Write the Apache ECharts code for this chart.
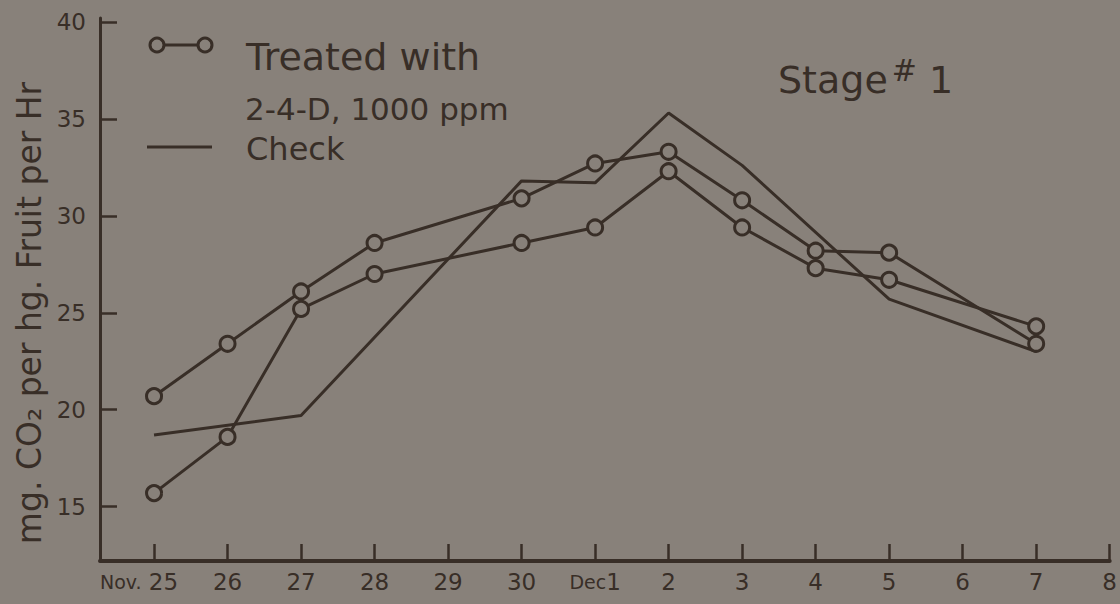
<!DOCTYPE html>
<html>
<head>
<meta charset="utf-8">
<script src="https://cdn.jsdelivr.net/npm/echarts@6/dist/echarts.min.js"></script>
<style>
  html, body { margin: 0; padding: 0; background: #88817a; }
  #chart { width: 1120px; height: 604px; }
</style>
</head>
<body>
<div id="chart"></div>
<script>
// ---- data ----
const days = ['Nov. 25', '26', '27', '28', '29', '30', 'Dec 1', '2', '3', '4', '5', '6', '7', '8'];
const treatedA = [20.7, 23.4, 26.1, 28.6, null, 30.9, 32.7, 33.3, 30.8, 28.2, 28.1, null, 23.4, null];
const treatedB = [15.7, 18.6, 25.2, 27.0, null, 28.6, 29.4, 32.3, 29.4, 27.3, 26.7, null, 24.3, null];
const check    = [18.7, null, 19.7, null, null, 31.8, 31.7, 35.3, 32.6, null, 25.7, null, 23.0, null];
const yTicks = [15, 20, 25, 30, 35, 40];
const dayTicks = days.map((d, i) => i);

const ink = '#382e27';
const bg = '#88817a';
const font = 'DejaVu Sans';

function pairs(arr) { return arr.map((v, i) => [i, v]); }

const chart = echarts.init(document.getElementById('chart'), null, { renderer: 'svg' });

const lineSeries = (name, data, withSymbols) => ({
  name: name,
  type: 'line',
  data: pairs(data),
  connectNulls: true,
  symbol: withSymbols ? 'circle' : 'none',
  symbolSize: 15,
  showSymbol: withSymbols,
  lineStyle: { color: ink, width: 3 },
  itemStyle: { color: bg, borderColor: ink, borderWidth: 3 },
  z: withSymbols ? 3 : 2,
  animation: false
});

chart.setOption({
  backgroundColor: bg,
  animation: false,
  textStyle: { fontFamily: font, color: ink },
  grid: { left: 100, right: 10, top: 18, bottom: 43 },
  xAxis: {
    type: 'value',
    min: -0.735,
    max: 13,
    axisLine: { show: true, onZero: false, lineStyle: { color: ink, width: 4 } },
    axisTick: { show: true, inside: true, length: 17, customValues: dayTicks, lineStyle: { color: ink, width: 2.5 } },
    axisLabel: {
      customValues: dayTicks,
      margin: 9,
      fontSize: 23,
      color: ink,
      fontFamily: font,
      formatter: function (v) {
        const s = days[Math.round(v)];
        if (s && s.indexOf('Nov.') === 0) return '{s|Nov.} {n|' + s.slice(5) + '}';
        if (s && s.indexOf('Dec') === 0) return '{d|Dec}' + s.slice(4);
        return s;
      },
      rich: {
        s: { fontSize: 19, fontFamily: font, color: ink },
        n: { fontSize: 23, fontFamily: font, color: ink, padding: [0, 30, 0, 0] },
        d: { fontSize: 19, fontFamily: font, color: ink }
      }
    },
    splitLine: { show: false }
  },
  yAxis: {
    type: 'value',
    min: 12.2,
    max: 40.2,
    name: 'mg. CO\u2082 per hg. Fruit per Hr',
    nameLocation: 'middle',
    nameRotate: 90,
    nameGap: 54,
    nameTextStyle: { fontSize: 33, fontFamily: font, color: ink, padding: [0, 47, 0, 0] },
    axisLine: { show: true, onZero: false, lineStyle: { color: ink, width: 3 } },
    axisTick: { show: true, inside: true, length: 17, customValues: yTicks, lineStyle: { color: ink, width: 2.5 } },
    axisLabel: {
      customValues: yTicks,
      margin: 14,
      fontSize: 23,
      fontFamily: font,
      color: function (v) { return v === 40 ? '#5e554d' : ink; },
      formatter: function (v) { return String(v); }
    },
    splitLine: { show: false }
  },
  graphic: [
    // legend: treated (o—o)
    { type: 'line', shape: { x1: 157, y1: 45, x2: 205, y2: 45 }, style: { stroke: ink, lineWidth: 3 }, z: 10 },
    { type: 'circle', shape: { cx: 157, cy: 45, r: 7 }, style: { fill: bg, stroke: ink, lineWidth: 3 }, z: 11 },
    { type: 'circle', shape: { cx: 205, cy: 45, r: 7 }, style: { fill: bg, stroke: ink, lineWidth: 3 }, z: 11 },
    { type: 'text', style: { x: 246, y: 57, verticalAlign: 'middle', text: 'Treated with', font: '38px "DejaVu Sans"', fill: ink }, z: 10 },
    { type: 'text', style: { x: 245, y: 109, verticalAlign: 'middle', text: '2-4-D, 1000 ppm', font: '31px "DejaVu Sans"', fill: ink }, z: 10 },
    // legend: check (line)
    { type: 'line', shape: { x1: 147, y1: 147, x2: 212, y2: 147 }, style: { stroke: ink, lineWidth: 3 }, z: 10 },
    { type: 'text', style: { x: 246, y: 149, verticalAlign: 'middle', text: 'Check', font: '32px "DejaVu Sans"', fill: ink }, z: 10 },
    // stage label
    {
      type: 'text',
      style: {
        x: 778, y: 80, verticalAlign: 'middle',
        text: 'Stage{sup|#} 1',
        font: '38px "DejaVu Sans"',
        fill: ink,
        rich: { sup: { fontSize: 30, fontFamily: font, fill: ink, verticalAlign: 'top', padding: [0, 0, 20, 4] } }
      },
      z: 10
    }
  ],
  series: [
    lineSeries('Check', check, false),
    lineSeries('Treated with 2-4-D, 1000 ppm (a)', treatedA, true),
    lineSeries('Treated with 2-4-D, 1000 ppm (b)', treatedB, true)
  ]
});
</script>
</body>
</html>
